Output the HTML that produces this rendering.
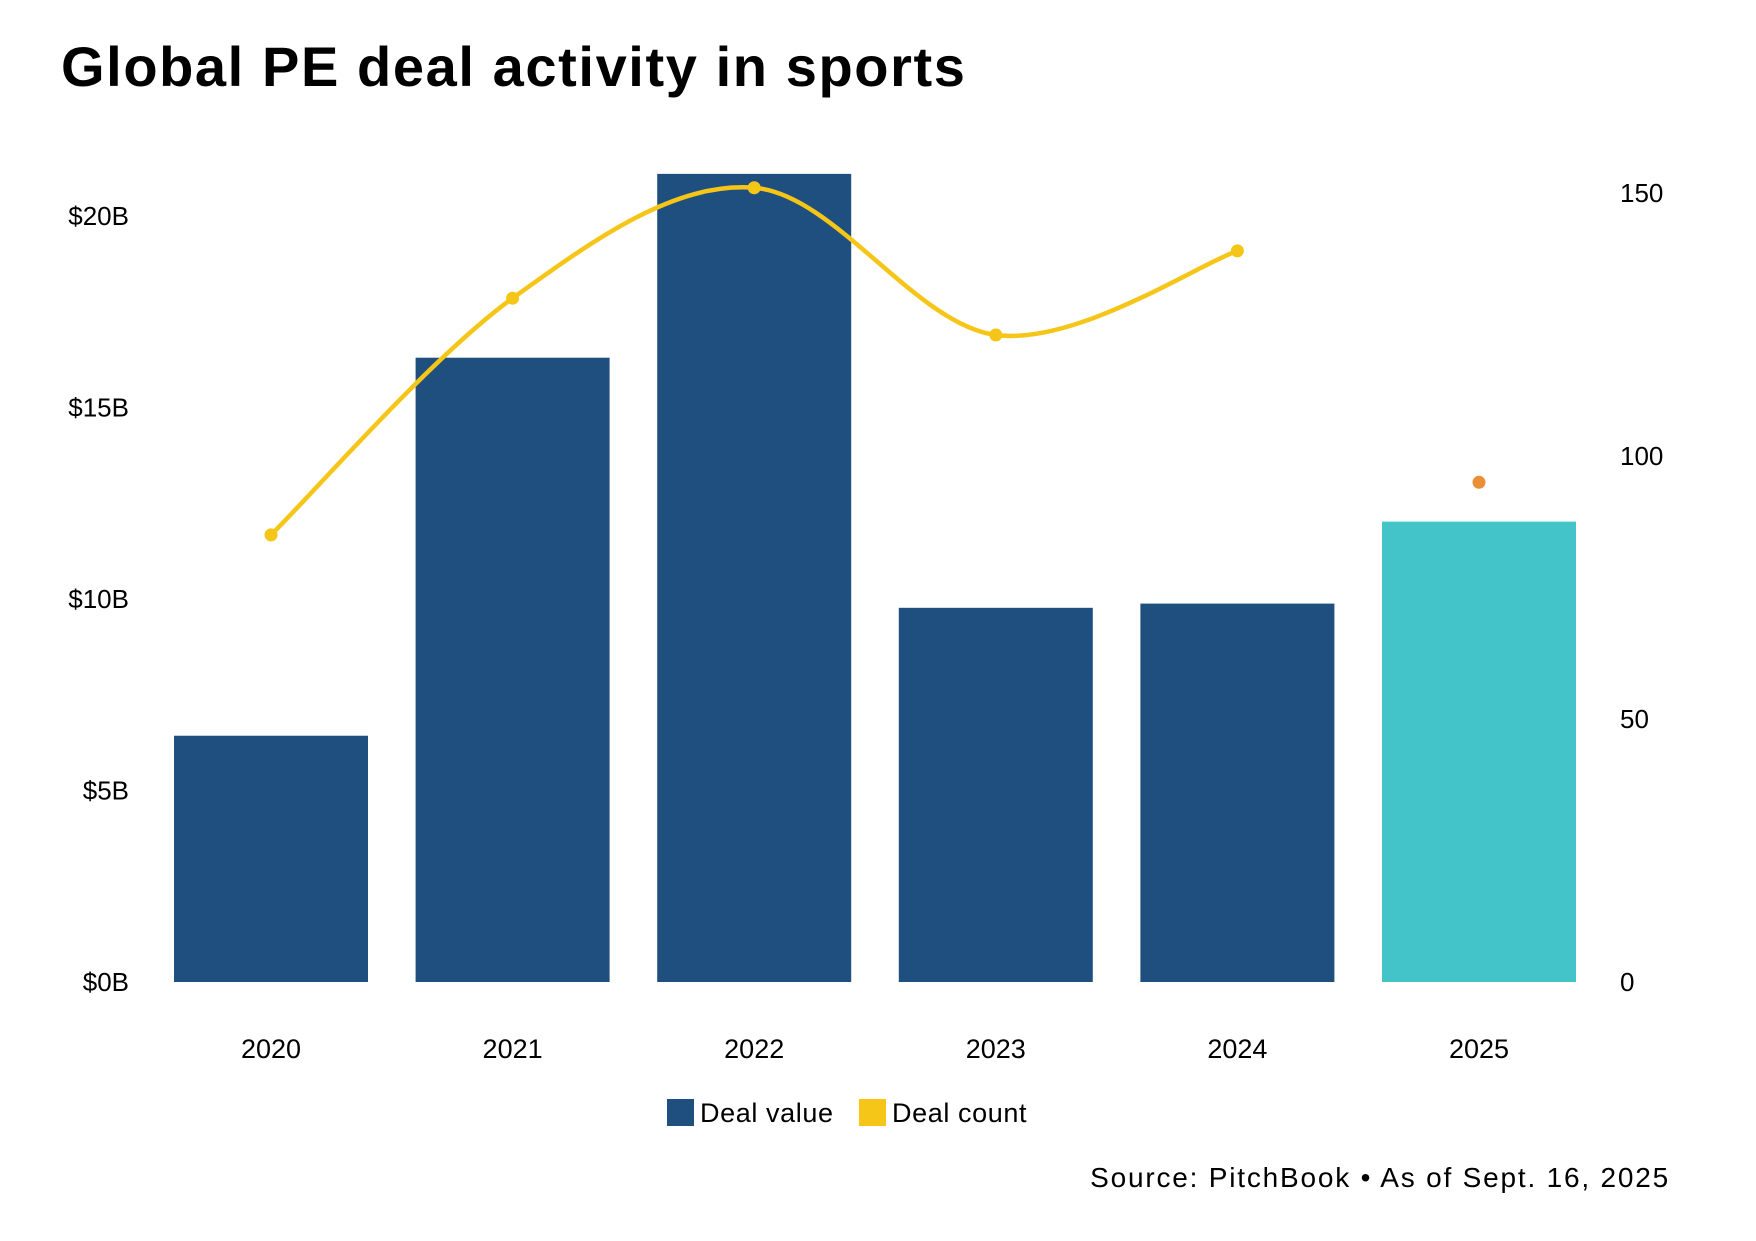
<!DOCTYPE html>
<html><head><meta charset="utf-8"><style>
body{margin:0;background:#fff;width:1756px;height:1236px;overflow:hidden;font-family:"Liberation Sans",sans-serif}
</style></head><body>
<svg width="1756" height="1236" viewBox="0 0 1756 1236">
<text x="61" y="86" font-size="56" font-weight="bold" letter-spacing="1.6" fill="#000">Global PE deal activity in sports</text>
<g id="left-axis"></g>
<g id="right-axis"></g>
<g id="bars"></g>
<g id="line"></g>
<g id="xaxis"></g>
<g>
<rect x="667" y="1099" width="27" height="27" fill="#1f4f7e"/>
<text x="700" y="1122" font-size="27" letter-spacing="0.6" fill="#000">Deal value</text>
<rect x="859" y="1099" width="27" height="27" fill="#f5c518"/>
<text x="892" y="1122" font-size="27" letter-spacing="0.6" fill="#000">Deal count</text>
</g>
<text x="1670" y="1187" font-size="28" letter-spacing="1.8" fill="#000" text-anchor="end">Source: PitchBook • As of Sept. 16, 2025</text>
</svg>
<script>
const categories=["2020","2021","2022","2023","2024","2025"];
const dealValue=[6.43,16.3,21.1,9.77,9.88,12.02];
const dealCount=[85,130,151,123,139,95];
const leftTicks=[0,5,10,15,20];
const rightTicks=[0,50,100,150];
const NS="http://www.w3.org/2000/svg";
const base=982, pxPerB=38.3, pxPerCount=5.26;
const yL=v=>base-v*pxPerB, yR=v=>base-v*pxPerCount;
const xC=i=>271+i*241.6, bw=194;
function mk(tag,attrs,parent){const e=document.createElementNS(NS,tag);for(const k in attrs)e.setAttribute(k,attrs[k]);parent.appendChild(e);return e;}
const la=document.getElementById('left-axis'),ra=document.getElementById('right-axis'),bg=document.getElementById('bars'),lg=document.getElementById('line'),xa=document.getElementById('xaxis');
leftTicks.forEach(t=>{const e=mk('text',{x:129,y:yL(t)+9,'font-size':26,'text-anchor':'end',fill:'#000'},la);e.textContent='$'+t+'B';

});
rightTicks.forEach(t=>{const e=mk('text',{x:1620,y:yR(t)+9,'font-size':26,fill:'#000'},ra);e.textContent=t;

});
categories.forEach((c,i)=>{
const r=mk('rect',{x:xC(i)-bw/2,y:yL(dealValue[i]),width:bw,height:base-yL(dealValue[i]),fill:i==5?'#42c4c8':'#1f4f7e'},bg);


const t=mk('text',{x:xC(i),y:1058,'font-size':27,'text-anchor':'middle',fill:'#000'},xa);t.textContent=c;


});
const pts=dealCount.slice(0,5).map((v,i)=>[xC(i),yR(v)]);
let d='M'+pts[0][0]+','+pts[0][1];
for(let i=0;i<pts.length-1;i++){const p0=pts[i-1]||pts[i],p1=pts[i],p2=pts[i+1],p3=pts[i+2]||p2;
d+=' C'+(p1[0]+(p2[0]-p0[0])/6)+','+(p1[1]+(p2[1]-p0[1])/6)+' '+(p2[0]-(p3[0]-p1[0])/6)+','+(p2[1]-(p3[1]-p1[1])/6)+' '+p2[0]+','+p2[1];}
const path=mk('path',{d:d,fill:'none',stroke:'#f5c518','stroke-width':4.5},lg);


dealCount.forEach((v,i)=>{const c=mk('circle',{cx:xC(i),cy:yR(v),r:6.5,fill:i==5?'#eb8f37':'#f5c518'},lg);

});
</script>
</body></html>
